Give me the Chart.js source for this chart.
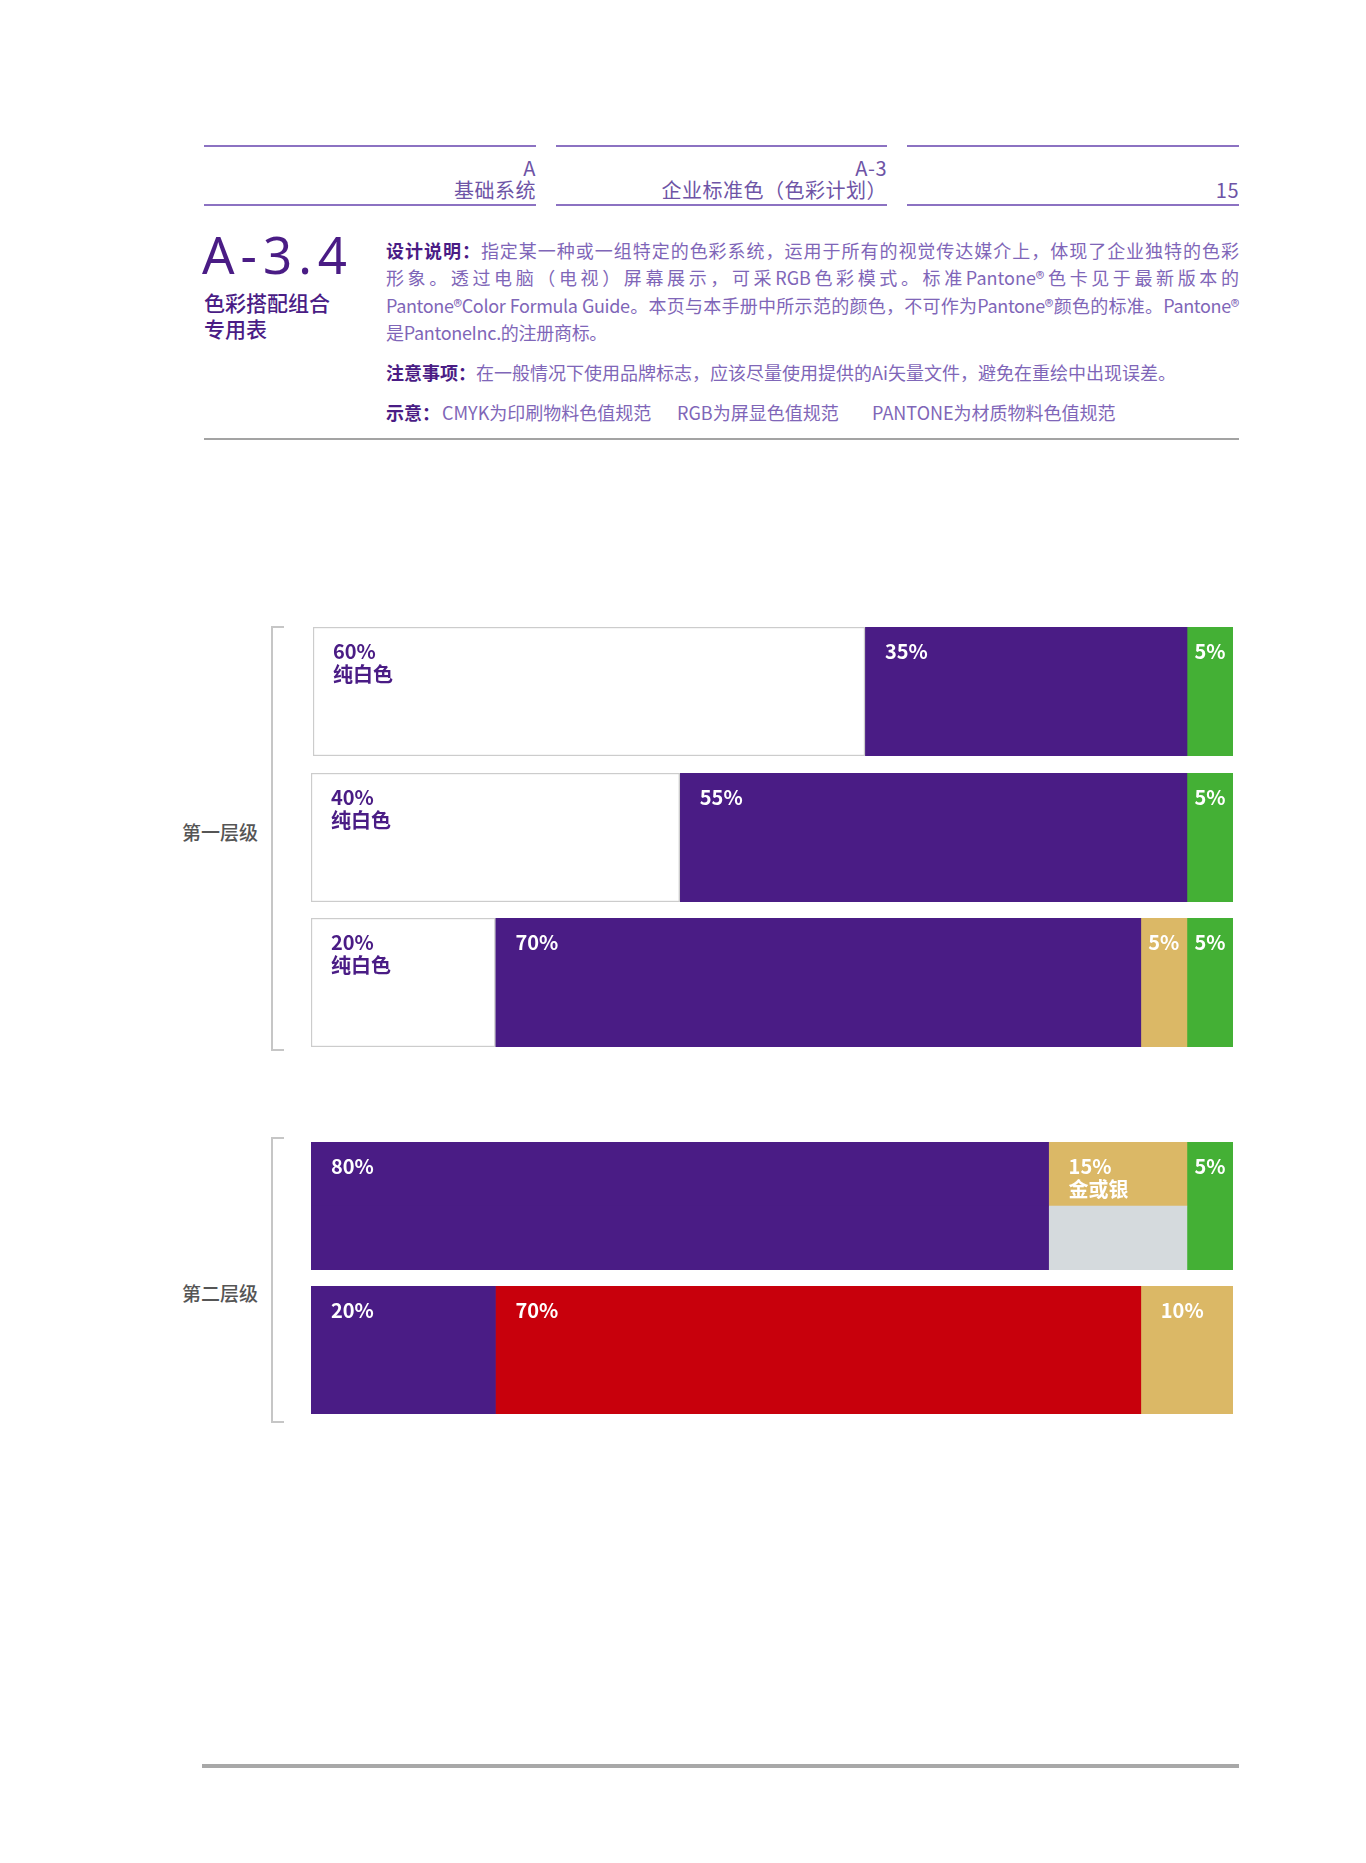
<!DOCTYPE html>
<html>
<head>
<meta charset="utf-8">
<script src="https://cdn.jsdelivr.net/npm/chart.js@4/dist/chart.umd.min.js"></script>
<style>
  body { margin: 0; background: #fff; width: 1366px; height: 1863px; position: relative; overflow: hidden;
    font-family: "Noto Sans CJK SC", "Noto Sans", sans-serif; }
  .abs { position: absolute; white-space: nowrap; }
  .hline { position: absolute; height: 2px; background: #8c72c2; }
  .htext { position: absolute; text-align: right; color: #6e54a6; font-size: 20px; line-height: 20px; letter-spacing: 0.5px; }
  .para { position: absolute; left: 386px; width: 853px; color: #7f66b8; font-size: 18px; line-height: 18px;
    text-align: justify; text-align-last: justify; white-space: nowrap; }
  .para.last { text-align-last: left; }
  .para b { color: #4a1c85; }
  .tier { position: absolute; left: 172px; width: 86px; text-align: right; color: #555; font-size: 19px; line-height: 19px; font-weight: 500; }
  .bracket { position: absolute; left: 271px; width: 11px; border: 2px solid #c6c6c6; border-right: none; }
  canvas { position: absolute; }
</style>
</head>
<body>
  <div class="hline" style="left:204px;top:145px;width:332px"></div>
  <div class="hline" style="left:556px;top:145px;width:331px"></div>
  <div class="hline" style="left:907px;top:145px;width:332px"></div>
  <div class="hline" style="left:204px;top:204px;width:332px"></div>
  <div class="hline" style="left:556px;top:204px;width:331px"></div>
  <div class="hline" style="left:907px;top:204px;width:332px"></div>

  <div class="htext" style="left:204px;width:332px;top:158px">A</div>
  <div class="htext" style="left:204px;width:332px;top:180px">基础系统</div>
  <div class="htext" style="left:556px;width:331px;top:158px">A-3</div>
  <div class="htext" style="left:556px;width:331px;top:180px">企业标准色（色彩计划）</div>
  <div class="htext" style="left:907px;width:332px;top:180px">15</div>

  <div class="abs" style="left:202px;top:229px;font-family:'Noto Sans';font-size:51px;line-height:51px;color:#4a1c85;letter-spacing:6px">A-3.4</div>
  <div class="abs" style="left:204px;top:292px;font-size:21px;line-height:21px;color:#4a1c85;font-weight:500">色彩搭配组合</div>
  <div class="abs" style="left:204px;top:318px;font-size:21px;line-height:21px;color:#4a1c85;font-weight:500">专用表</div>

  <div class="para" style="top:241px"><b>设计说明：</b>指定某一种或一组特定的色彩系统，运用于所有的视觉传达媒介上，体现了企业独特的色彩</div>
  <div class="para" style="top:268px">形象。透过电脑（电视）屏幕展示，可采RGB色彩模式。标准Pantone®色卡见于最新版本的</div>
  <div class="para" style="top:296px;letter-spacing:-0.35px">Pantone®Color Formula Guide。本页与本手册中所示范的颜色，不可作为Pantone®颜色的标准。Pantone®</div>
  <div class="para last" style="top:323px;letter-spacing:-0.3px">是PantoneInc.的注册商标。</div>
  <div class="para last" style="top:363px"><b>注意事项：</b>在一般情况下使用品牌标志，应该尽量使用提供的Ai矢量文件，避免在重绘中出现误差。</div>
  <div class="abs" style="left:386px;top:403px;font-size:18px;line-height:18px;color:#7f66b8"><b style="color:#4a1c85">示意：</b></div>
  <div class="abs" style="left:442px;top:403px;font-size:18px;line-height:18px;color:#7f66b8">CMYK为印刷物料色值规范</div>
  <div class="abs" style="left:677px;top:403px;font-size:18px;line-height:18px;color:#7f66b8">RGB为屏显色值规范</div>
  <div class="abs" style="left:872px;top:403px;font-size:18px;line-height:18px;color:#7f66b8">PANTONE为材质物料色值规范</div>

  <div class="abs" style="left:204px;top:438px;width:1035px;height:2px;background:#a3a3a3"></div>

  <div class="bracket" style="top:626px;height:421px"></div>
  <div class="bracket" style="top:1137px;height:282px"></div>
  <div class="tier" style="top:822px">第一层级</div>
  <div class="tier" style="top:1283px">第二层级</div>

  <canvas id="row1" width="920" height="129" style="left:313px;top:627px"></canvas>
  <canvas id="row2" width="922" height="129" style="left:311px;top:773px"></canvas>
  <canvas id="row3" width="922" height="129" style="left:311px;top:918px"></canvas>
  <canvas id="row4" width="922" height="128" style="left:311px;top:1142px"></canvas>
  <canvas id="row5" width="922" height="128" style="left:311px;top:1286px"></canvas>

  <div class="abs" style="left:202px;top:1764px;width:1037px;height:4px;background:#a8a8a8"></div>

<script>
const PURPLE = "#4a1c85";
const GREEN = "#44b035";
const GOLD = "#dbb866";
const SILVER = "#d5dadd";
const RED = "#c8000c";
const WHITE = "#ffffff";

// percent of each segment, left to right
const row1Values = [60, 35, 5];
const row2Values = [40, 55, 5];
const row3Values = [20, 70, 5, 5];
const row4Values = [80, 15, 5];
const row5Values = [20, 70, 10];

const row1Colors = [WHITE, PURPLE, GREEN];
const row2Colors = [WHITE, PURPLE, GREEN];
const row3Colors = [WHITE, PURPLE, GOLD, GREEN];
const row4Colors = [PURPLE, [GOLD, SILVER], GREEN]; // middle segment: gold on top, silver below
const row5Colors = [PURPLE, RED, GOLD];

const row1Names = ["纯白色", "", ""];
const row2Names = ["纯白色", "", ""];
const row3Names = ["纯白色", "", "", ""];
const row4Names = ["", "金或银", ""];
const row5Names = ["", "", ""];

const row4Halves = ["金", "银"];

function labelPlugin(values, colors, names) {
  return {
    id: "segmentLabels",
    afterDatasetsDraw(chart) {
      const ctx = chart.ctx;
      ctx.save();
      ctx.font = "bold 20px 'Noto Sans CJK SC'";
      ctx.textBaseline = "top";
      values.forEach((v, i) => {
        const bar = chart.getDatasetMeta(i).data[0];
        const p = bar.getProps(["x", "base", "y", "height"], true);
        const lines = [v + "%"];
        if (names[i]) lines.push(names[i]);
        const w = p.x - p.base;
        const tw = Math.max(...lines.map((l) => ctx.measureText(l).width));
        const left = p.base + Math.min(20, (w - tw) / 2);
        const top = p.y - p.height / 2 + 14;
        ctx.fillStyle = colors[i] === WHITE ? PURPLE : "#ffffff";
        lines.forEach((l, k) => ctx.fillText(l, left, top + k * 23));
      });
      ctx.restore();
    },
  };
}

function makeRow(id, values, colors, names, categories) {
  const datasets = values.map((v, i) => ({
    data: categories.map(() => v),
    backgroundColor: colors[i],
    borderColor: "#cccccc",
    borderWidth: colors[i] === WHITE ? 1.5 : 0,
    borderSkipped: false,
    barPercentage: 1,
    categoryPercentage: 1,
  }));
  return new Chart(document.getElementById(id), {
    type: "bar",
    data: { labels: categories, datasets: datasets },
    options: {
      indexAxis: "y",
      responsive: false,
      animation: false,
      layout: { padding: 0 },
      plugins: { legend: { display: false }, tooltip: { enabled: false } },
      scales: {
        x: { stacked: true, min: 0, max: 100, display: false },
        y: { stacked: true, display: false },
      },
    },
    plugins: [labelPlugin(values, colors, names)],
  });
}

makeRow("row1", row1Values, row1Colors, row1Names, [""]);
makeRow("row2", row2Values, row2Colors, row2Names, [""]);
makeRow("row3", row3Values, row3Colors, row3Names, [""]);
makeRow("row4", row4Values, row4Colors, row4Names, row4Halves);
makeRow("row5", row5Values, row5Colors, row5Names, [""]);
</script>
</body>
</html>
